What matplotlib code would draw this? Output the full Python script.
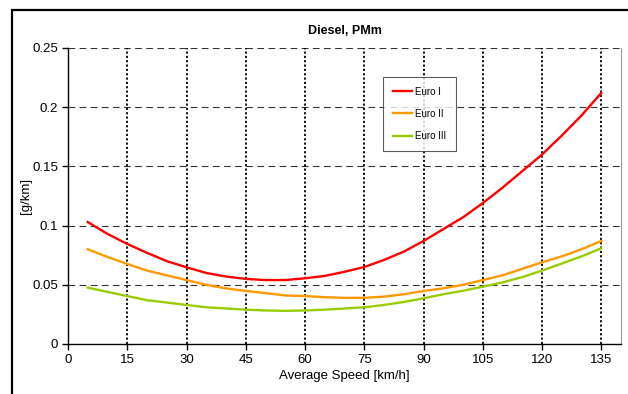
import matplotlib.pyplot as plt
from matplotlib.patches import Rectangle
import numpy as np

plt.rcParams['font.family'] = ['Liberation Sans', 'DejaVu Sans']

# average speed [km/h] and PM emission factors [g/km]
speed = np.arange(5, 140, 5)

euro1 = [0.103, 0.093, 0.0845, 0.077, 0.070, 0.0648, 0.060, 0.057, 0.055,
         0.054, 0.054, 0.0555, 0.0575, 0.061, 0.065, 0.071, 0.078, 0.087,
         0.097, 0.107, 0.119, 0.132, 0.146, 0.160, 0.176, 0.193, 0.212]

euro2 = [0.080, 0.0735, 0.0676, 0.062, 0.058, 0.054, 0.050, 0.047, 0.0448,
         0.043, 0.041, 0.0405, 0.0395, 0.039, 0.039, 0.040, 0.042, 0.0448,
         0.047, 0.050, 0.054, 0.058, 0.0635, 0.069, 0.074, 0.080, 0.087]

euro3 = [0.0476, 0.044, 0.0405, 0.037, 0.035, 0.033, 0.031, 0.030, 0.029,
         0.0283, 0.028, 0.0283, 0.029, 0.030, 0.031, 0.033, 0.0355, 0.0386,
         0.042, 0.045, 0.0484, 0.052, 0.0565, 0.062, 0.068, 0.074, 0.0808]

labels = ['Euro I', 'Euro II', 'Euro III']
colors = ['#ff0000', '#ff9900', '#99cc00']

W, H = 628, 394
fig = plt.figure(figsize=(W / 100, H / 100), dpi=100)

# outer chart frame
fig.patches.append(Rectangle((12 / W, -0.1), 1.1, 1 - 10 / H + 0.1,
                             transform=fig.transFigure, fill=False,
                             edgecolor='black', linewidth=1.6))

ax = fig.add_axes([68 / W, 1 - 344 / H, (621 - 68) / W, (344 - 48) / H])

for data, lab, col in zip([euro1, euro2, euro3], labels, colors):
    ax.plot(speed, data, color=col, linewidth=1.7, label=lab, zorder=3,
            solid_joinstyle='round')

ax.set_xlim(0, 140)
ax.set_ylim(0, 0.25)
ax.set_xticks(np.arange(0, 136, 15))
ax.set_yticks([0, 0.05, 0.1, 0.15, 0.2, 0.25])
ax.set_yticklabels(['0', '0.05', '0.1', '0.15', '0.2', '0.25'])

# grid: dashed horizontals, dotted verticals
for y in [0.05, 0.1, 0.15, 0.2, 0.25]:
    ax.axhline(y, color='#333333', linestyle=(0, (6, 4)), linewidth=0.8, zorder=1)
for x in np.arange(15, 136, 15):
    ax.axvline(x, color='black', linestyle=(0, (1.2, 1.2)), linewidth=1.3, zorder=1)

ax.spines['top'].set_visible(False)
ax.spines['right'].set_color('#999999')
ax.spines['right'].set_linewidth(0.8)
ax.spines['left'].set_linewidth(1.0)
ax.spines['bottom'].set_linewidth(1.0)
ax.tick_params(direction='out', length=4, width=1.0, labelsize=9.5, pad=3)

ax.set_title('Diesel, PMm', fontsize=9, fontweight='bold', pad=10)
ax.set_xlabel('Average Speed [km/h]', fontsize=9.5, labelpad=3)
ax.set_ylabel('[g/km]', fontsize=9.5, labelpad=0.5)

leg = ax.legend(loc='upper left', bbox_to_anchor=((383 - 68) / 553, (344 - 77) / 296),
                borderaxespad=0, fontsize=7, frameon=True, fancybox=False,
                handlelength=2.0, handletextpad=0.3, labelspacing=1.25,
                borderpad=1.0)
leg.get_frame().set_edgecolor('#333333')
leg.get_frame().set_linewidth(0.8)

fig.savefig('out.png', dpi=100)
